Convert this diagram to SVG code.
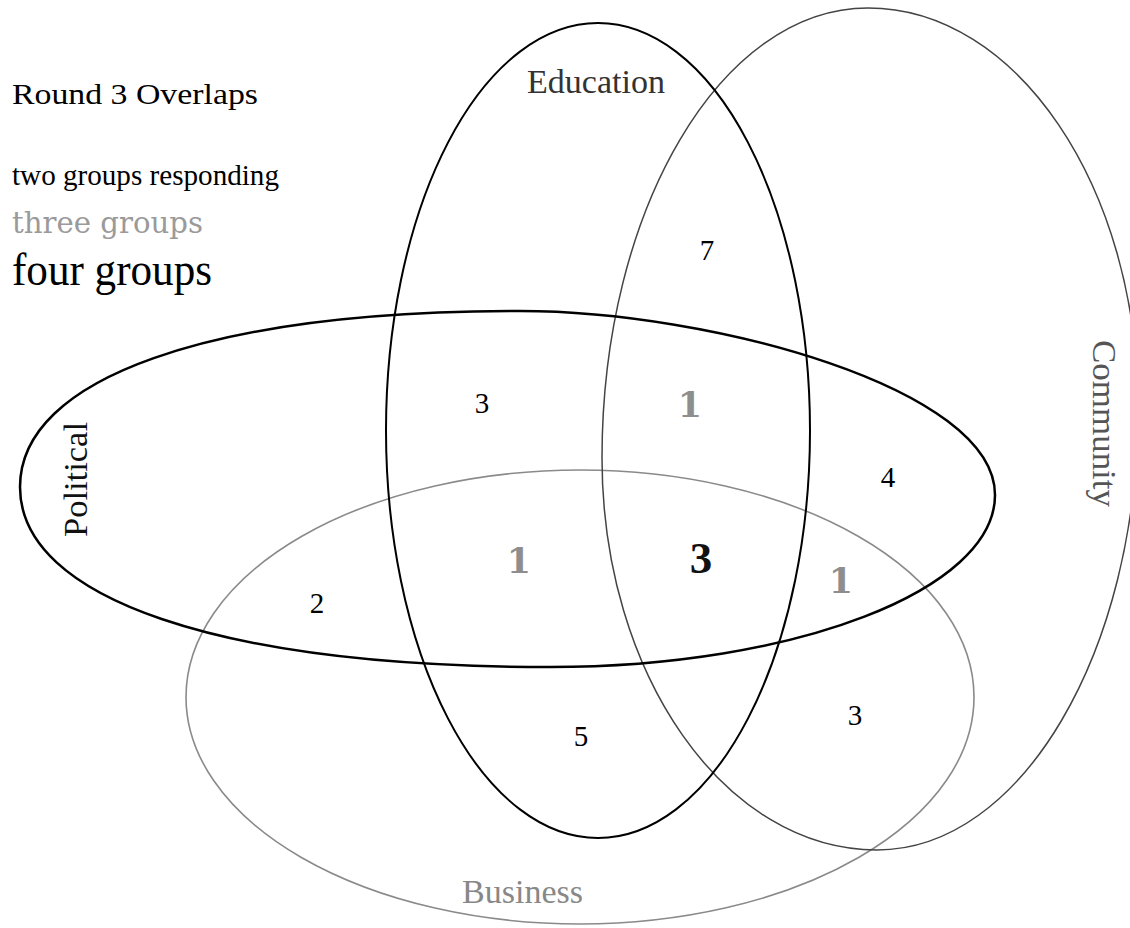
<svg xmlns="http://www.w3.org/2000/svg" width="1130" height="928" viewBox="0 0 1130 928">
<style>
.t{font-family:"Liberation Serif","Times New Roman",serif;}
.g3{font-family:"DejaVu Serif","Liberation Serif",serif;fill:#9a9a9a;}
.n2{font-family:"Liberation Serif","Times New Roman",serif;font-size:29px;fill:#000;text-anchor:middle;}
.n3{font-family:"DejaVu Serif","Liberation Serif",serif;font-size:35px;fill:#8e8e8e;text-anchor:middle;font-weight:bold;}
.n4{font-family:"Liberation Serif","Times New Roman",serif;font-size:45px;fill:#111;text-anchor:middle;font-weight:bold;}
.lab{font-family:"Liberation Serif","Times New Roman",serif;font-size:34px;}
.shape{fill:none;}
</style>
<rect width="1130" height="928" fill="#fff"/>
<g id="legend">
<text class="t" x="12" y="104" font-size="30" textLength="246" lengthAdjust="spacingAndGlyphs">Round 3 Overlaps</text>
<text class="t" x="12" y="185" font-size="29" textLength="267" lengthAdjust="spacingAndGlyphs">two groups responding</text>
<text class="g3" x="12" y="233" font-size="29" textLength="191" lengthAdjust="spacingAndGlyphs">three groups</text>
<text class="t" x="12" y="285" font-size="46" textLength="200" lengthAdjust="spacingAndGlyphs">four groups</text>
</g>
<g id="business">
<ellipse class="shape" cx="580" cy="697" rx="394" ry="227" stroke="#8a8a8a" stroke-width="1.6"/>
<text class="lab" x="462" y="903" fill="#888" textLength="121" lengthAdjust="spacingAndGlyphs">Business</text>
</g>
<g id="community">
<path class="shape" stroke="#444" stroke-width="1.5" d="M868,8 C1017,8 1138,187 1138,408 C1138,652 1021,850 877,850 C725,850 602,674.5 602,458 C602,209.5 721,8 868,8 Z"/>
<text class="lab" transform="translate(1093,340) rotate(90)" fill="#555" textLength="167" lengthAdjust="spacingAndGlyphs">Community</text>
</g>
<g id="political">
<path class="shape" stroke="#000" stroke-width="2.5" d="M20,487 C20,378 210,311 520,311 C710,311 995,388 995,495 C995,590 795,667 550,667 C221,667 20,599 20,487 Z"/>
<text class="lab" transform="translate(87,537) rotate(-90)" fill="#111" textLength="115" lengthAdjust="spacingAndGlyphs">Political</text>
</g>
<g id="education">
<ellipse class="shape" cx="598" cy="430.5" rx="212" ry="407.5" stroke="#000" stroke-width="2"/>
<text class="lab" x="527" y="93" fill="#333" textLength="138" lengthAdjust="spacingAndGlyphs">Education</text>
</g>
<g id="counts">
<text class="n2" x="707" y="260">7</text>
<text class="n2" x="482" y="413">3</text>
<text class="n2" x="888" y="487">4</text>
<text class="n2" x="317" y="613">2</text>
<text class="n2" x="581" y="746">5</text>
<text class="n2" x="855" y="725">3</text>
<text class="n3" x="690" y="417">1</text>
<text class="n3" x="519" y="573">1</text>
<text class="n3" x="841" y="593">1</text>
<text class="n4" x="701" y="573">3</text>
</g>
<g id="connectors"></g>
</svg>
